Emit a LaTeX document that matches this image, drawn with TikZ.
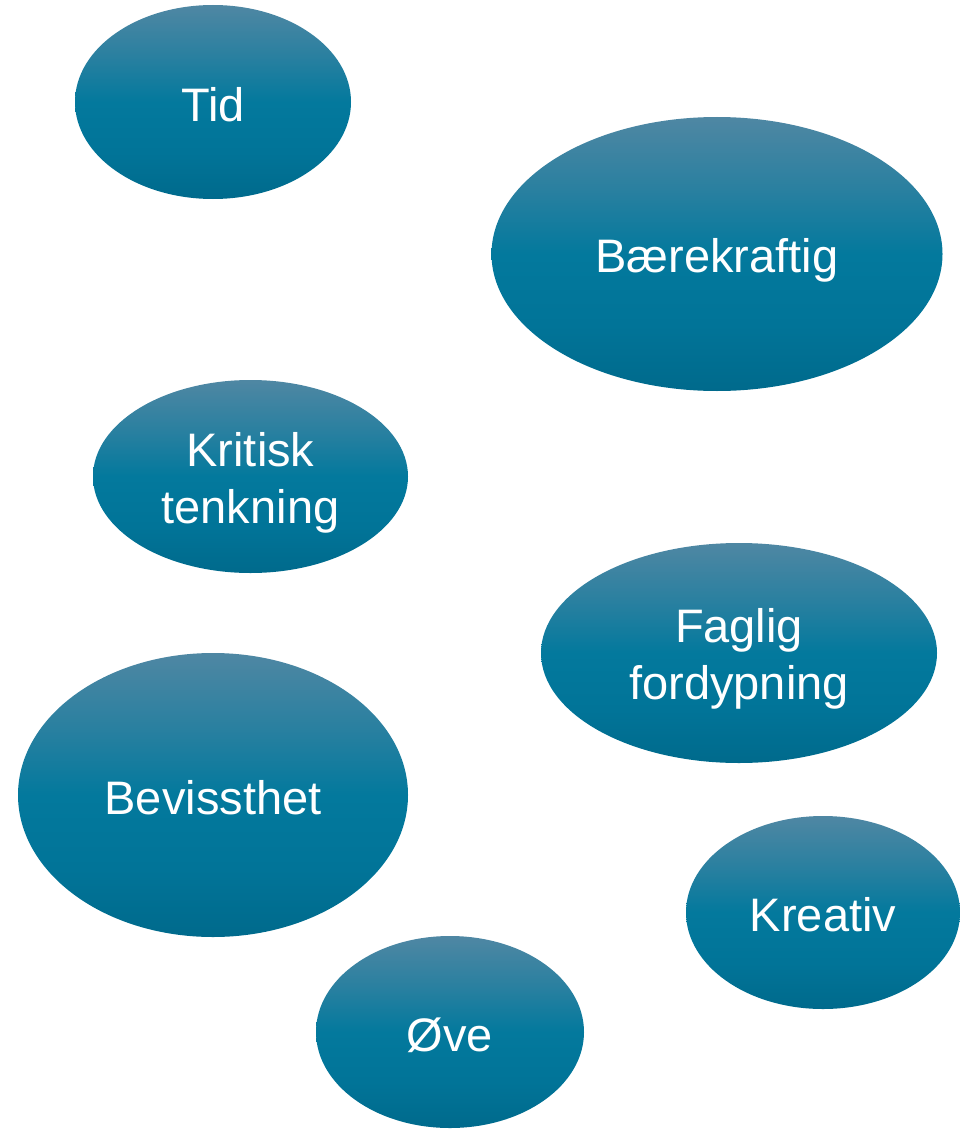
\documentclass[tikz,border=0pt]{standalone}
\usepackage{fontspec}
\setmainfont{Liberation Sans}
\usetikzlibrary{shapes.geometric}
\definecolor{blTop}{HTML}{4F87A3}
\definecolor{blUp}{HTML}{2A80A0}
\definecolor{blMid}{HTML}{03799D}
\definecolor{blLow}{HTML}{017498}
\definecolor{blBot}{HTML}{006A8C}
\pgfdeclareverticalshading{bubshade}{100bp}{color(0bp)=(blBot); color(25bp)=(blBot); color(37bp)=(blLow); color(50bp)=(blMid); color(62bp)=(blUp); color(75bp)=(blTop); color(100bp)=(blTop)}
\newcommand\lnst{\rule[-0.18em]{0pt}{1.17em}}
\tikzset{
  bubble/.style={ellipse, inner sep=0pt, draw=none, shading=bubshade,
    text=white, align=center, font=\fontsize{47}{57}\selectfont}
}
\begin{document}
\begin{tikzpicture}[x=1pt,y=-1pt]
\useasboundingbox (0,0) rectangle (960,1129);
\node[bubble, minimum width=276pt, minimum height=194pt] (tid) at (213,102) {\lnst Tid};
\node[bubble, minimum width=451pt, minimum height=274pt] (baere) at (717,254) {\lnst Bærekraftig};
\node[bubble, minimum width=315pt, minimum height=193pt] (krit) at (250.5,476.5) {\lnst Kritisk\\\lnst tenkning};
\node[bubble, minimum width=396pt, minimum height=220pt] (fag) at (739,653) {\lnst Faglig\\\lnst fordypning};
\node[bubble, minimum width=390pt, minimum height=284pt] (bev) at (213,795) {\lnst Bevissthet};
\node[bubble, minimum width=274pt, minimum height=193pt] (krea) at (823,912.5) {\lnst Kreativ};
\node[bubble, minimum width=268pt, minimum height=192pt] (ove) at (450,1032) {\lnst Øve};
\end{tikzpicture}
\end{document}
